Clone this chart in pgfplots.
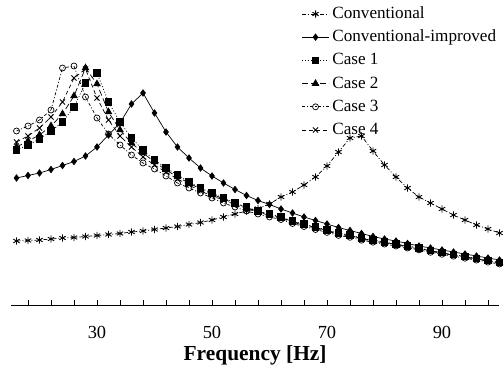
\documentclass[border=0pt]{standalone}
\usepackage{fontspec}
\setmainfont{Liberation Serif}
\usepackage{pgfplots}
\usepackage{pgfplotstable}
\pgfplotsset{compat=1.18}

% Response amplitude versus frequency, sampled every 2 Hz
\pgfplotstableread{
f    conv  impr   c1    c2    c3    c4
16   64    127    155   158   174   163
18   64.5  129.5  160   164   179   169
20   65    132    166   170   185   177
22   66    135.5  174   179   195   188
24   67    139.5  183   191   237   203
26   67.5  143.5  198   209   239   227
28   68.5  149    222   237   208   236
30   69.5  158    232   221   187   207
32   70.5  170    203   193   171   185
34   71.5  182    183   175   160   169
36   73    201    167   162   150   158
38   74    212    155   152   142   148
40   75.5  192    145   143   136   140
42   77    173    137   135   129   133
44   78.5  158    130   128   122   126
46   80.5  147    123   122   117   120
48   82.5  137    117   116   112   114
50   85    129    112   111   107   109
52   88    122    107   106   102   105
54   91    115.5  102   101.5 98    100.5
56   94    109.5  98    97.5  94    96.5
58   96.5  104.5  94    93.5  91    93
60   101   100.5  91    90.5  88    89.5
62   108   96     88    87.5  85.5  86.8
64   113   92     84    83.5  81.5  82.8
66   120   88     81    80.5  78.5  79.8
68   128   84.5   78    77.5  75.5  76.8
70   139   81     75    74.5  72.6  73.8
72   153   77.5   72    71.5  69.6  70.9
74   167   74.5   70    69.5  67.7  68.9
76   169   71.5   67    66.5  64.8  66
78   154   68.5   65    64.5  62.8  64
80   140   66     63    62.5  60.9  62
82   128   64     61    60.7  59    60.1
84   117   61.5   59    58.7  57    58.1
86   108   59     57    56.7  55.1  56.1
88   102   57     54.5  54.2  52.7  53.6
90   96    55     52.5  52.2  50.7  51.7
92   90    53     50.5  50.2  48.8  49.7
94   85    51     48.5  48.2  46.8  47.7
96   80    49     46.5  46.2  44.9  45.8
98   76    47     44.5  44.2  42.9  43.8
100  72    45     42.5  42.2  41    41.8
}\resp

\begin{document}
\begin{tikzpicture}
\useasboundingbox (-10.75bp,-61bp) rectangle (493.25bp,305bp);
\begin{axis}[
  at={(0,0)}, anchor=south west,
  scale only axis, width=488.75bp, height=305bp,
  xmin=15, xmax=100, ymin=0, ymax=305,
  clip=false,
  axis x line=bottom, axis y line=none,
  x axis line style={-, line width=0.8bp},
  xtick={30,50,70,90},
  minor xtick={18,22,26,34,38,42,46,54,58,62,66,74,78,82,86,94,98},
  tick align=inside,
  major tick length=5bp, minor tick length=5bp,
  tick style={black, line width=0.8bp},
  /pgf/number format/assume math mode=true,
  xticklabel style={font=\fontsize{18.5}{22}\selectfont, anchor=base, yshift=-33.5bp},
  xlabel={Frequency [Hz]},
  xlabel style={font=\fontsize{21.5}{26}\selectfont\bfseries, at={(rel axis cs:0.5,0)}, anchor=base, yshift=-55bp},
  legend style={draw=none, fill=none, inner sep=0pt, outer sep=0pt,
    at={(axis cs:65.6,299.5)}, anchor=north west,
    font=\fontsize{17.2}{21}\selectfont,
    nodes={inner sep=0pt, text height=13bp, text depth=4bp},
    row sep=6.2bp,
    /tikz/every odd column/.append style={column sep=3bp}},
  legend cell align=left,
  legend image code/.code={\draw[mark repeat=2, mark phase=2, #1]
    plot coordinates {(0bp,0bp) (13.5bp,0bp) (27bp,0bp)};},
  every axis plot/.append style={black, line width=0.7bp},
]
\addplot[dash pattern=on 4bp off 2bp on 1bp off 2bp, mark=asterisk, mark size=3.6bp, mark options={solid, line width=0.9bp}]
  table[x=f, y=conv] {\resp};
\addlegendentry{Conventional}
\addplot[solid, mark=diamond*, mark size=3.2bp]
  table[x=f, y=impr] {\resp};
\addlegendentry{Conventional-improved}
\addplot[dash pattern=on 1bp off 2bp, mark=square*, mark size=3.2bp, mark options={solid}]
  table[x=f, y=c1] {\resp};
\addlegendentry{Case 1}
\addplot[dash pattern=on 6bp off 3bp, mark=triangle*, mark size=3.8bp, mark options={solid}]
  table[x=f, y=c2] {\resp};
\addlegendentry{Case 2}
\addplot[dash pattern=on 3bp off 2bp on 1bp off 2bp, mark=o, mark size=3bp, mark options={solid, fill=white}]
  table[x=f, y=c3] {\resp};
\addlegendentry{Case 3}
\addplot[dash pattern=on 4bp off 3bp, mark=x, mark size=3.6bp, mark options={solid, line width=0.9bp}]
  table[x=f, y=c4] {\resp};
\addlegendentry{Case 4}
\end{axis}
\end{tikzpicture}
\end{document}
